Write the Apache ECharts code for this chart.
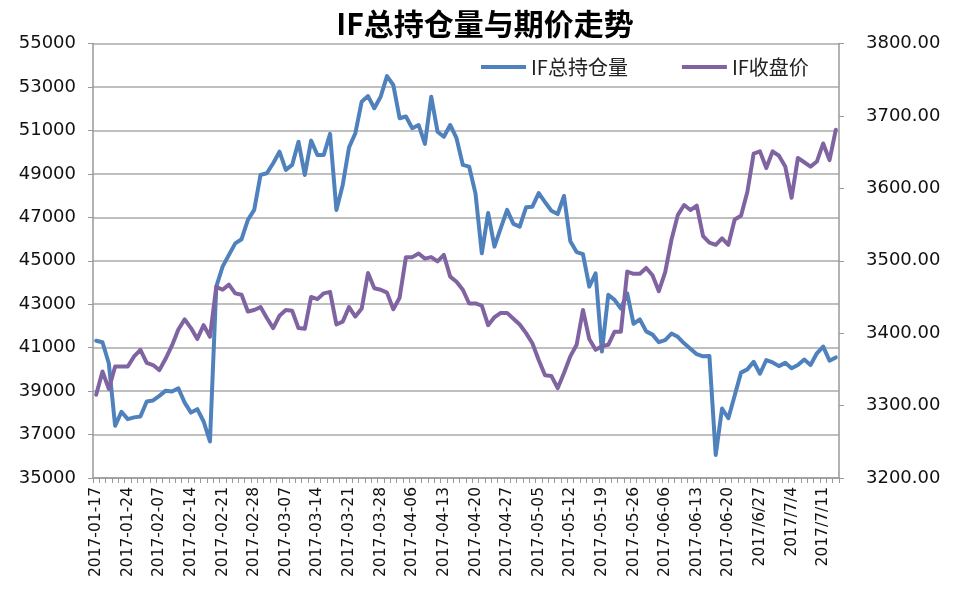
<!DOCTYPE html>
<html>
<head>
<meta charset="utf-8">
<script src="https://cdn.jsdelivr.net/npm/echarts@6/dist/echarts.min.js"></script>
<style>
html,body{margin:0;padding:0;background:#fff;}
#chart{width:954px;height:594px;}
</style>
</head>
<body>
<div id="chart"></div>
<script>
var dates = [
'2017-01-17','2017-01-18','2017-01-19','2017-01-20','2017-01-23','2017-01-24','2017-01-25','2017-01-26',
'2017-02-03','2017-02-06','2017-02-07','2017-02-08','2017-02-09','2017-02-10','2017-02-13','2017-02-14',
'2017-02-15','2017-02-16','2017-02-17','2017-02-20','2017-02-21','2017-02-22','2017-02-23','2017-02-24',
'2017-02-27','2017-02-28',
'2017-03-01','2017-03-02','2017-03-03','2017-03-06','2017-03-07','2017-03-08','2017-03-09','2017-03-10',
'2017-03-13','2017-03-14','2017-03-15','2017-03-16','2017-03-17','2017-03-20','2017-03-21','2017-03-22',
'2017-03-23','2017-03-24','2017-03-27','2017-03-28','2017-03-29','2017-03-30','2017-03-31',
'2017-04-05','2017-04-06','2017-04-07','2017-04-10','2017-04-11','2017-04-12','2017-04-13','2017-04-14',
'2017-04-17','2017-04-18','2017-04-19','2017-04-20','2017-04-21','2017-04-24','2017-04-25','2017-04-26',
'2017-04-27','2017-04-28',
'2017-05-02','2017-05-03','2017-05-04','2017-05-05','2017-05-08','2017-05-09','2017-05-10','2017-05-11',
'2017-05-12','2017-05-15','2017-05-16','2017-05-17','2017-05-18','2017-05-19','2017-05-22','2017-05-23',
'2017-05-24','2017-05-25','2017-05-26','2017-05-31',
'2017-06-01','2017-06-02','2017-06-05','2017-06-06','2017-06-07','2017-06-08','2017-06-09','2017-06-12',
'2017-06-13','2017-06-14','2017-06-15','2017-06-16','2017-06-19','2017-06-20',
'2017/6/21','2017/6/22','2017/6/23','2017/6/26','2017/6/27','2017/6/28','2017/6/29','2017/6/30',
'2017/7/3','2017/7/4','2017/7/5','2017/7/6','2017/7/7','2017/7/10','2017/7/11','2017/7/12','2017/7/13'
];

var openInterest = [
41320,41250,40280,37400,38050,37710,37790,37830,38520,38570,
38780,39020,38980,39130,38470,38010,38170,37600,36680,43810,
44730,45270,45800,45990,46880,47340,48950,49030,49490,50020,
49180,49410,50480,48950,50530,49870,49870,50840,47340,48490,
50220,50870,52320,52580,52020,52550,53500,53090,51560,51640,
51100,51250,50380,52550,50940,50710,51250,50640,49410,49330,
48100,45340,47200,45650,46500,47340,46700,46570,47460,47490,
48110,47700,47300,47150,47980,45900,45400,45300,43810,44420,
40820,43430,43200,42800,43500,42100,42300,41750,41600,41250,
41350,41650,41500,41200,40950,40700,40600,40620,36060,38200,
37750,38800,39850,40000,40350,39800,40430,40320,40150,40300,
40050,40200,40450,40200,40740,41050,40400,40550
];

var closePrice = [
3315,3347,3323,3354,3354,3354,3368,3377,3359,3356,
3349,3365,3383,3405,3419,3407,3392,3411,3395,3464,
3460,3467,3455,3453,3430,3432,3436,3421,3407,3424,
3432,3431,3407,3406,3450,3447,3455,3457,3412,3416,
3436,3423,3434,3483,3462,3460,3456,3433,3449,3505,
3505,3510,3503,3505,3499,3508,3478,3471,3460,3441,
3441,3438,3411,3422,3428,3428,3420,3412,3400,3386,
3363,3342,3341,3324,3345,3368,3384,3432,3392,3377,
3382,3384,3402,3402,3485,3482,3482,3490,3480,3458,
3484,3529,3563,3577,3570,3576,3534,3525,3522,3531,
3522,3557,3562,3595,3648,3651,3628,3651,3645,3630,
3587,3642,3636,3630,3637,3662,3639,3681
];

var leftTicks = {min: 35000, max: 55000, step: 2000};
var rightTicks = {min: 3200, max: 3800, step: 100};

var chart = echarts.init(document.getElementById('chart'), null, {renderer: 'canvas'});
var axisFont = 'DejaVu Sans';
chart.setOption({
  animation: false,
  backgroundColor: '#ffffff',
  title: {
    text: 'IF总持仓量与期价走势',
    left: 480, top: 4, textAlign: 'center',
    textStyle: {fontFamily: 'Noto Sans CJK SC', fontWeight: 'bold', fontSize: 30, color: '#000'}
  },
  legend: {
    left: 476, top: 52,
    itemWidth: 45, itemHeight: 4, itemGap: 54,
    icon: 'rect',
    textStyle: {fontFamily: 'Noto Sans CJK SC', fontSize: 20, color: '#222'},
    data: ['IF总持仓量', 'IF收盘价']
  },
  grid: {left: 93, right: 115, top: 43.5, bottom: 116, containLabel: false},
  xAxis: {
    type: 'category',
    data: dates,
    boundaryGap: true,
    axisLine: {lineStyle: {color: '#999', width: 1.5}},
    axisTick: {show: true, interval: 0, length: 5, lineStyle: {color: '#999'}},
    axisLabel: {interval: 4, rotate: 90, fontFamily: axisFont, fontSize: 15.5, color: '#111', margin: 9}
  },
  yAxis: [{
    type: 'value', min: leftTicks.min, max: leftTicks.max, interval: leftTicks.step,
    axisLine: {show: true, lineStyle: {color: '#999', width: 1.5}},
    axisTick: {show: true, length: 5, lineStyle: {color: '#999'}},
    axisLabel: {fontFamily: axisFont, fontSize: 18, color: '#111', margin: 17,
      formatter: function (v) { return String(v); }},
    splitLine: {lineStyle: {color: '#aaa', width: 1.5}}
  }, {
    type: 'value', min: rightTicks.min, max: rightTicks.max, interval: rightTicks.step,
    position: 'right',
    axisLine: {show: true, lineStyle: {color: '#999', width: 1.5}},
    axisTick: {show: true, length: 5, lineStyle: {color: '#999'}},
    axisLabel: {fontFamily: axisFont, fontSize: 18, color: '#111', margin: 27,
      formatter: function (v) { return v.toFixed(2); }},
    splitLine: {show: false}
  }],
  series: [{
    name: 'IF总持仓量', type: 'line', yAxisIndex: 0, data: openInterest,
    showSymbol: false, symbol: 'none',
    lineStyle: {color: '#4F81BD', width: 4, cap: 'round', join: 'round'},
    itemStyle: {color: '#4F81BD'}
  }, {
    name: 'IF收盘价', type: 'line', yAxisIndex: 1, data: closePrice,
    showSymbol: false, symbol: 'none',
    lineStyle: {color: '#8064A2', width: 4, cap: 'round', join: 'round'},
    itemStyle: {color: '#8064A2'}
  }]
});
</script>
</body>
</html>
